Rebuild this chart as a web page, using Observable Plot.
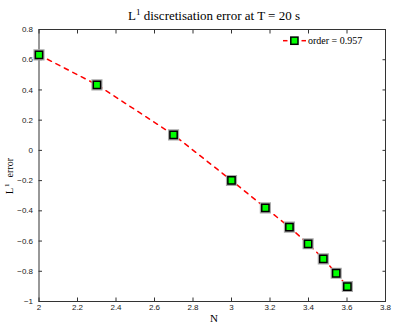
<!DOCTYPE html>
<html>
<head>
<meta charset="utf-8">
<script src="https://cdn.jsdelivr.net/npm/d3@7"></script>
<script src="https://cdn.jsdelivr.net/npm/@observablehq/plot@0.6"></script>
<style>
  html, body { margin: 0; padding: 0; background: #fff; }
  #chart { width: 394px; height: 327px; }
</style>
</head>
<body>
<div id="chart"></div>
<script>
// ---- data (log10 N vs log10 L1 error) ----
const logN = [2.0, 2.301, 2.699, 3.0, 3.176, 3.301, 3.398, 3.477, 3.544, 3.602];
const logErr = [0.632, 0.434, 0.103, -0.199, -0.380, -0.508, -0.618, -0.718, -0.813, -0.901];
const xTicks = [2, 2.2, 2.4, 2.6, 2.8, 3, 3.2, 3.4, 3.6, 3.8];
const yTicks = [-1, -0.8, -0.6, -0.4, -0.2, 0, 0.2, 0.4, 0.6, 0.8];
const titleMain = "L";
const titleSup = "1";
const titleRest = " discretisation error at T = 20 s";
const xLabel = "N";
const yLabelMain = "L";
const yLabelSup = "1";
const yLabelRest = "error";
const legendLabel = "order = 0.957";

const data = logN.map((x, i) => ({x, y: logErr[i]}));

const axisColor = "#333";
const tickFont = "Liberation Sans, Arial, Helvetica, sans-serif";
const serif = "Liberation Serif, Times New Roman, serif";
const fmt = d3.format("~g");

const chart = Plot.plot({
  width: 394,
  height: 327,
  marginLeft: 38.5,
  marginRight: 9,
  marginTop: 29,
  marginBottom: 26,
  style: {fontFamily: tickFont, fontSize: "8px", background: "#fff", color: "#222"},
  x: {domain: [2, 3.8]},
  y: {domain: [-1, 0.8]},
  marks: [
    Plot.frame({stroke: axisColor, strokeWidth: 1}),
    Plot.axisX({anchor: "bottom", ticks: xTicks, tickFormat: fmt, tickSize: -3.5, tickPadding: 6, label: null, stroke: axisColor}),
    Plot.axisX({anchor: "top", ticks: xTicks, tickSize: -3.5, tickFormat: () => "", label: null, stroke: axisColor}),
    Plot.axisY({anchor: "left", ticks: yTicks, tickFormat: fmt, tickSize: -3.5, tickPadding: 9.5, label: null, stroke: axisColor}),
    Plot.axisY({anchor: "right", ticks: yTicks, tickSize: -3.5, tickFormat: () => "", label: null, stroke: axisColor}),
    Plot.line(data, {x: "x", y: "y", stroke: "#ff0000", strokeWidth: 1.5, strokeDasharray: "4.5,5"}),
    Plot.dot(data, {x: "x", y: "y", symbol: "square", r: 4.6, fill: "none", stroke: "#a8a8a8", strokeWidth: 3}),
    Plot.dot(data, {x: "x", y: "y", symbol: "square", r: 4.1, fill: "#00ff00", stroke: "#000", strokeWidth: 1.5})
  ]
});

document.getElementById("chart").appendChild(chart);

const svg = d3.select(chart);

// Title
const t = svg.append("text")
  .attr("x", 214).attr("y", 20)
  .attr("text-anchor", "middle")
  .style("font-family", serif).style("font-size", "13px").attr("fill", "#000");
t.append("tspan").text(titleMain);
t.append("tspan").attr("dy", -5).style("font-size", "9px").text(titleSup);
t.append("tspan").attr("dy", 5).text(titleRest);

// X label
svg.append("text")
  .attr("x", 214).attr("y", 322)
  .attr("text-anchor", "middle")
  .style("font-family", serif).style("font-size", "11px").attr("fill", "#000")
  .text(xLabel);

// Y label
const yl = svg.append("text")
  .attr("transform", "translate(13,194) rotate(-90)")
  .attr("text-anchor", "start")
  .style("font-family", serif).style("font-size", "10px").attr("fill", "#000");
yl.append("tspan").text(yLabelMain);
yl.append("tspan").attr("dx", 1).attr("dy", -4).style("font-size", "7px").text(yLabelSup);
yl.append("tspan").attr("dx", 6).attr("dy", 4).text(yLabelRest);

// Legend
const lg = svg.append("g");
lg.append("line").attr("x1", 283).attr("x2", 287.5).attr("y1", 40.7).attr("y2", 40.7)
  .attr("stroke", "#ff0000").attr("stroke-width", 1.5);
lg.append("line").attr("x1", 301.5).attr("x2", 306).attr("y1", 40.7).attr("y2", 40.7)
  .attr("stroke", "#ff0000").attr("stroke-width", 1.5);
lg.append("rect").attr("x", 290.8).attr("y", 37.1).attr("width", 7.2).attr("height", 7.2)
  .attr("fill", "#00ff00").attr("stroke", "#000").attr("stroke-width", 1.5);
lg.append("text").attr("x", 308).attr("y", 44)
  .attr("text-anchor", "start")
  .style("font-family", serif).style("font-size", "10px").attr("fill", "#000")
  .text(legendLabel);
</script>
</body>
</html>
